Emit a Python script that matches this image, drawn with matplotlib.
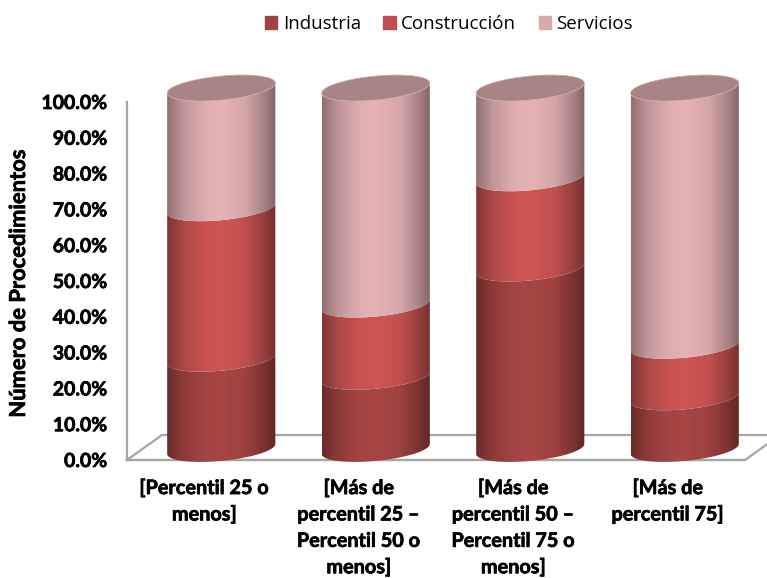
import numpy as np
import matplotlib
matplotlib.use("Agg")
import matplotlib.pyplot as plt
import matplotlib.patheffects as pe
from matplotlib.path import Path
from matplotlib.patches import Patch, Polygon

categories = ["[Percentil 25 o\nmenos]",
              "[Más de\npercentil 25 –\nPercentil 50 o\nmenos]",
              "[Más de\npercentil 50 –\nPercentil 75 o\nmenos]",
              "[Más de\npercentil 75]"]
series_names = ["Industria", "Construcción", "Servicios"]
industria = [25.0, 20.0, 50.0, 14.3]
construccion = [41.7, 20.0, 25.0, 14.3]
servicios = [33.3, 60.0, 25.0, 71.4]
colors = ["#a84644", "#ce5654", "#e6b3b5"]
legend_colors = ["#a04341", "#c0504f", "#dca9aa"]
top_color = "#a88484"
axis_color = "#a6a6a6"

half_w = 0.35      # half width of a cylinder, in category units
minor = 3.35       # ellipse half height in %
tilt = 1.4         # ellipse tilt in %
lift = 3.1         # base of the cylinders sits above the front axis line
shift = 17 / 154.5 # cylinders stand in the middle of the floor depth
stretch = 1.008

fig = plt.figure(figsize=(7.67, 5.78), dpi=100)
ax = fig.add_axes([127 / 767, (578 - 460) / 578, 618 / 767, 358 / 578])
ax.set_xlim(-0.5, 3.5)
ax.set_ylim(0, 100)

# side shading of the cylinders, left to right
pos = [0, 0.04, 0.15, 0.35, 0.5, 0.72, 0.9, 1]
shade = [0.62, 0.68, 0.84, 0.97, 1.0, 0.93, 0.72, 0.56]
grad = np.interp(np.linspace(0, 1, 200), pos, shade)


def front_arc(cx, y):
    t = np.linspace(np.pi, 2 * np.pi, 60)
    return cx + half_w * np.cos(t), y + minor * np.sin(t) + tilt * np.cos(t)


def draw_segment(cx, y0, y1, color):
    x_low, y_low = front_arc(cx, y0)
    x_up, y_up = front_arc(cx, y1)
    verts = np.vstack([np.column_stack([x_low, y_low]),
                       np.column_stack([x_up[::-1], y_up[::-1]]),
                       [[x_low[0], y_low[0]]]])
    rgb = np.array(matplotlib.colors.to_rgb(color))
    img = (grad[:, None] * rgb)[None, :, :]
    im = ax.imshow(img, extent=[cx - half_w, cx + half_w, y0 - 8, y1 + 8],
                   aspect="auto", zorder=3, interpolation="bilinear")
    im.set_clip_path(Path(verts), transform=ax.transData)
    im.set_clip_box(fig.bbox)


# floor of the 3D box
depth_x = 35 / 154.5
depth_y = 25 / 3.58
ax.plot([-0.5, -0.5 + depth_x, 3.5 + depth_x, 3.5, -0.5],
        [0, depth_y, depth_y, 0, 0], color=axis_color, lw=1.6, zorder=1, clip_on=False)

for i in range(len(categories)):
    cx = i + shift
    base = lift
    for values, color in zip([industria, construccion, servicios], colors):
        draw_segment(cx, base, base + values[i] * stretch, color)
        base += values[i] * stretch
    t = np.linspace(0, 2 * np.pi, 120)
    top = np.column_stack([cx + half_w * np.cos(t),
                           base + minor * np.sin(t) + tilt * np.cos(t)])
    ax.add_patch(Polygon(top, closed=True, facecolor=top_color, edgecolor="#c9aeae",
                         lw=0.5, zorder=4, clip_on=False))

ax.set_xlim(-0.5, 3.5)
ax.set_ylim(0, 100)

for side in ["top", "right"]:
    ax.spines[side].set_visible(False)
for side in ["left", "bottom"]:
    ax.spines[side].set_color(axis_color)
    ax.spines[side].set_linewidth(1.6)

# Lato Bold is lighter than the reference face, a thin stroke thickens it
heavy = [pe.withStroke(linewidth=0.5, foreground="black")]

ax.set_yticks(np.arange(0, 101, 10))
ax.set_yticklabels([f"{v:.1f}%" for v in np.arange(0, 101, 10)],
                   family="Lato", fontweight="bold", fontsize=14, path_effects=heavy)
ax.set_xticks(range(len(categories)))
ax.set_xticklabels(categories, family="Lato", fontweight="bold", fontsize=14.3, linespacing=1.4,
                   path_effects=heavy)
ax.tick_params(axis="y", length=0, pad=14)
ax.tick_params(axis="x", length=0, pad=13)
ax.set_ylabel("Número de Procedimientos", family="Lato", fontweight="bold", fontsize=15.8,
              path_effects=heavy)
ax.yaxis.set_label_coords((29 - 127) / 618, 0.494)

handles = [Patch(color=c, label=n) for c, n in zip(legend_colors, series_names)]
fig.legend(handles=handles, loc="center", bbox_to_anchor=(449 / 767, 1 - 24 / 578), ncol=3,
           frameon=False, prop={"family": "Open Sans", "size": 13.5},
           handlelength=0.65, handleheight=0.65, handletextpad=0.3, columnspacing=1.2)

plt.savefig("out.png", dpi=100)
plt.close()
